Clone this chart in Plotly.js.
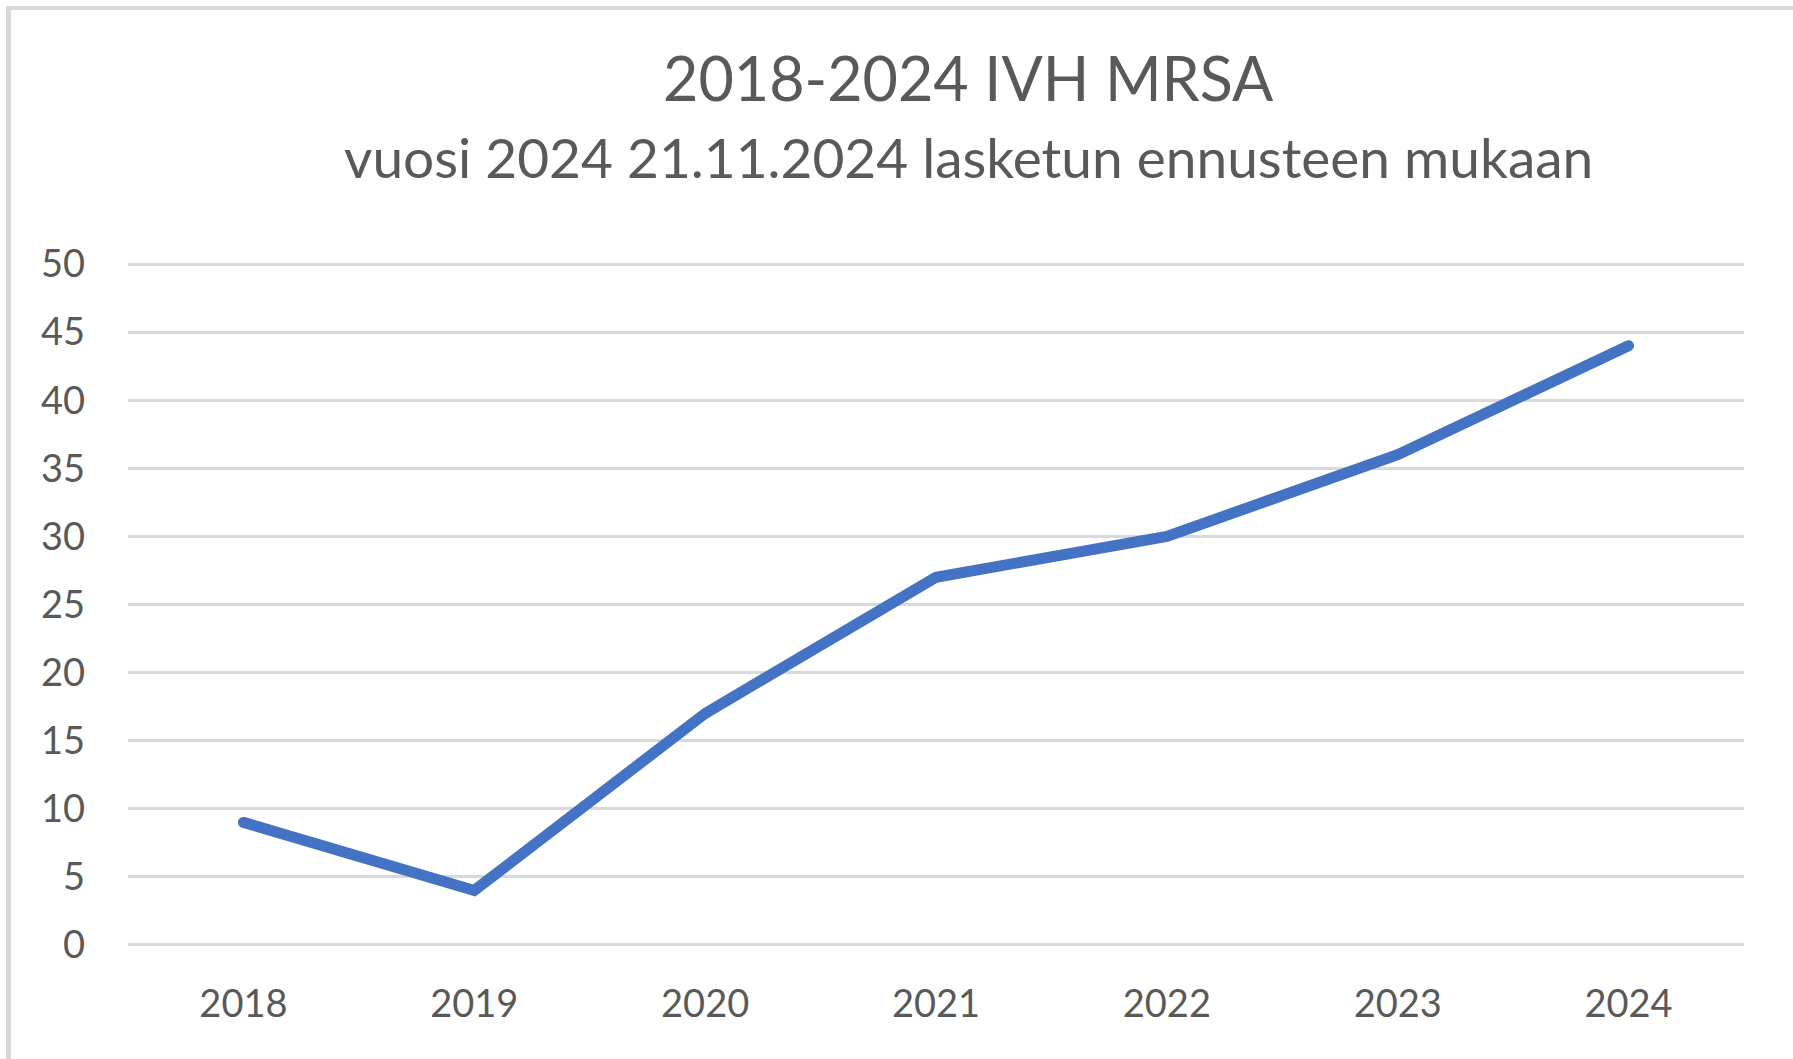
<!DOCTYPE html>
<html>
<head>
<meta charset="utf-8">
<script src="https://cdn.plot.ly/plotly-3.0.1.min.js"></script>
<style>
  body { margin: 0; background: #fff; }
  #frame {
    position: absolute; left: 6px; top: 6px; width: 1800px; height: 1060px;
    border-left: 5px solid #d9d9d9; border-top: 4px solid #d9d9d9;
  }
  #plot { position: absolute; left: 0; top: 0; width: 1793px; height: 1059px; }
  #plot .js-line { stroke-linecap: round; }
</style>
</head>
<body>
<div id="frame"></div>
<div id="plot"></div>
<script>
// vuodet ja MRSA-tapaukset (2024 ennuste)
const years = ['2018', '2019', '2020', '2021', '2022', '2023', '2024'];
const cases = [9, 4, 17, 27, 30, 36, 44];
const yTicks = [0, 5, 10, 15, 20, 25, 30, 35, 40, 45, 50];

const font = 'Lato, "Open Sans", sans-serif';

const data = [{
  x: years,
  y: cases,
  type: 'scatter',
  mode: 'lines',
  line: { color: '#4472C4', width: 11 },
  hoverinfo: 'x+y'
}];

// pieni lisävara ylä- ja alapäähän, jotta 0- ja 50-viivat piirtyvät
const layout = {
  width: 1793,
  height: 1059,
  paper_bgcolor: 'rgba(0,0,0,0)',
  plot_bgcolor: 'rgba(0,0,0,0)',
  margin: { l: 128, r: 49, t: 262, b: 112 },
  showlegend: false,
  font: { family: font, color: '#595959' },
  title: {
    text: '2018-2024 IVH MRSA',
    font: { family: font, size: 61, color: '#595959' },
    xref: 'container', yref: 'container',
    x: 0.54, xanchor: 'center',
    y: 1 - 80 / 1059, yanchor: 'middle'
  },
  annotations: [{
    text: 'vuosi 2024 21.11.2024 lasketun ennusteen mukaan',
    xref: 'paper', yref: 'paper',
    x: (968 - 128) / 1616, xanchor: 'center',
    y: 1 + (262 - 157) / 685, yanchor: 'middle',
    showarrow: false,
    font: { family: font, size: 55, color: '#595959' }
  }],
  xaxis: {
    type: 'category',
    range: [-0.5, 6.5],
    showgrid: false,
    zeroline: false,
    showline: false,
    ticks: '',
    ticklabelstandoff: 31,
    tickfont: { family: font, size: 38, color: '#595959' },
    fixedrange: true
  },
  yaxis: {
    range: [-0.15, 50.15],
    tickvals: yTicks,
    ticktext: yTicks.map(String),
    showgrid: true,
    gridcolor: '#d9d9d9',
    gridwidth: 3,
    zeroline: false,
    showline: false,
    ticks: '',
    ticklabelstandoff: 42,
    tickfont: { family: font, size: 38, color: '#595959' },
    fixedrange: true
  }
};

Plotly.newPlot('plot', data, layout, { displayModeBar: false, staticPlot: true });
</script>
</body>
</html>
